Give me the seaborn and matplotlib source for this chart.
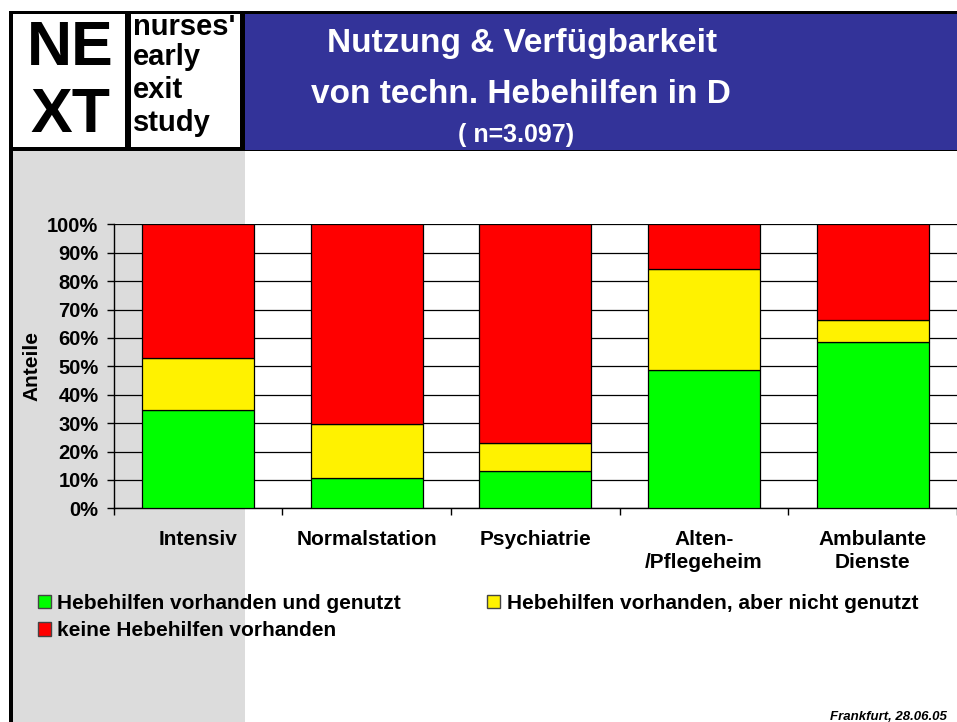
import numpy as np
import pandas as pd
import matplotlib
matplotlib.use("Agg")
import matplotlib.pyplot as plt
from matplotlib.patches import Rectangle, Patch
import seaborn as sns

# ---------------- data ----------------
categories = ["Intensiv", "Normalstation", "Psychiatrie", "Alten-\n/Pflegeheim", "Ambulante\nDienste"]
genutzt = [34.5, 10.7, 13.2, 48.8, 58.7]
nicht_genutzt = [18.5, 18.9, 9.9, 35.6, 7.5]
keine = [47.0, 70.4, 76.9, 15.6, 33.8]
series_labels = ["Hebehilfen vorhanden und genutzt",
                 "Hebehilfen vorhanden, aber nicht genutzt",
                 "keine Hebehilfen vorhanden"]
series_colors = ["#00FF00", "#FFF200", "#FF0000"]
ytick_values = [0, 10, 20, 30, 40, 50, 60, 70, 80, 90, 100]
ytick_labels = [f"{v}%" for v in ytick_values]
title_lines = ["Nutzung & Verfügbarkeit", "von techn. Hebehilfen in D", "( n=3.097)"]
footer = "Frankfurt, 28.06.05"

df = pd.DataFrame({"Kategorie": categories, "genutzt": genutzt,
                   "nicht": nicht_genutzt, "keine": keine})
df["b2"] = df["genutzt"]
df["b3"] = df["genutzt"] + df["nicht"]

# ---------------- figure ----------------
W, H = 957, 722
sns.set_theme(style="white")
plt.rcParams['font.family'] = ['Liberation Sans', 'DejaVu Sans']
plt.rcParams['text.color'] = 'black'
plt.rcParams['axes.labelcolor'] = 'black'
plt.rcParams['xtick.color'] = 'black'
plt.rcParams['ytick.color'] = 'black'
fig = plt.figure(figsize=(W / 100, H / 100), dpi=100)
fig.patch.set_facecolor("white")


def fx(x):
    return x / W


def fy(y):
    return 1 - y / H


def frect(x0, y0, x1, y1, color, z=-10):
    fig.add_artist(Rectangle((fx(x0), fy(y1)), (x1 - x0) / W, (y1 - y0) / H,
                             transform=fig.transFigure, facecolor=color,
                             edgecolor="none", zorder=z))


# background decorations
frect(13, 150, 245, 722, "#DCDCDC", z=-20)      # grey side panel
frect(9, 11, 957, 151, "black", z=-19)            # black frame of header
frect(9, 11, 13, 722, "black", z=-19)             # left black line
frect(13, 14, 125, 147, "white", z=-18)           # logo cell 1
frect(131, 14, 240, 147, "white", z=-18)          # logo cell 2
frect(245, 14, 957, 150, "#333399", z=-18)        # blue banner

# logo texts
fig.text(fx(70), fy(65), "NE", fontsize=45, fontweight="bold", color="black",
         ha="center", va="baseline")
fig.text(fx(70), fy(132), "XT", fontsize=45, fontweight="bold", color="black",
         ha="center", va="baseline")
for word, yb in zip(["nurses'", "early", "exit", "study"], [35, 65, 98, 131]):
    fig.text(fx(133), fy(yb), word, fontsize=21, fontweight="bold",
             color="black", ha="left", va="baseline")

# title
fig.text(fx(522), fy(52), title_lines[0], fontsize=24, fontweight="bold",
         color="white", ha="center", va="baseline")
fig.text(fx(521), fy(103), title_lines[1], fontsize=24, fontweight="bold",
         color="white", ha="center", va="baseline")
fig.text(fx(516), fy(142), title_lines[2], fontsize=18, fontweight="bold",
         color="white", ha="center", va="baseline")

# ---------------- axes ----------------
ax_left, ax_right, ax_top, ax_bottom = 113.7, 957.0, 224.3, 508.3
ax = fig.add_axes([fx(ax_left), fy(ax_bottom), (ax_right - ax_left) / W,
                   (ax_bottom - ax_top) / H])
ax.patch.set_alpha(0)

bw = 0.665
sns.barplot(data=df, x="Kategorie", y="genutzt", color=series_colors[0],
            saturation=1, width=bw, edgecolor="black", linewidth=0.9,
            errorbar=None, ax=ax, zorder=3)
sns.barplot(data=df, x="Kategorie", y="nicht", bottom=df["b2"],
            color=series_colors[1], saturation=1, width=bw, edgecolor="black",
            linewidth=0.9, errorbar=None, ax=ax, zorder=3)
sns.barplot(data=df, x="Kategorie", y="keine", bottom=df["b3"],
            color=series_colors[2], saturation=1, width=bw, edgecolor="black",
            linewidth=0.9, errorbar=None, ax=ax, zorder=3)

ax.set_ylim(0, 100)
ax.set_xlim(-0.5, len(categories) - 0.5)
ax.set_yticks(ytick_values)
ax.set_yticklabels(ytick_labels, fontsize=14.5, fontweight="bold", color="black")
ax.set_xticks(range(len(categories)))
ax.set_xticklabels(categories, fontsize=15, fontweight="bold", linespacing=1.25,
                   color="black")
ax.set_xticks(np.arange(-0.5, len(categories)), minor=True)
ax.set_xlabel("")
ax.set_ylabel("")

ax.grid(False)
ax.yaxis.grid(True, color="black", linewidth=0.9, zorder=0)
ax.set_axisbelow(True)

for s in ["top", "right"]:
    ax.spines[s].set_visible(False)
for s in ["left", "bottom"]:
    ax.spines[s].set_color("black")
    ax.spines[s].set_linewidth(1.0)

ax.tick_params(axis="y", which="major", left=True, length=5, width=1,
               color="black", direction="out", pad=6, labelcolor="black")
ax.tick_params(axis="x", which="major", bottom=True, length=0, pad=15.5,
               labelcolor="black")
ax.tick_params(axis="x", which="minor", bottom=True, length=5, width=1,
               color="black", direction="out")

fig.text(fx(32), fy(366), "Anteile", rotation=90, fontsize=15,
         fontweight="bold", color="black", ha="center", va="center")

# legend
handles = [Patch(facecolor=series_colors[0], edgecolor="#444444", linewidth=1, label=series_labels[0]),
           Patch(facecolor=series_colors[2], edgecolor="#444444", linewidth=1, label=series_labels[2]),
           Patch(facecolor=series_colors[1], edgecolor="#444444", linewidth=1, label=series_labels[1])]
leg = fig.legend(handles=handles, ncol=2, loc="upper left",
                 bbox_to_anchor=(fx(38), fy(594)), frameon=False,
                 prop={"size": 15, "weight": "bold"}, handlelength=0.62,
                 handleheight=0.62, handletextpad=0.3, columnspacing=4.15,
                 labelspacing=0.4, borderpad=0, borderaxespad=0)
for t in leg.get_texts():
    t.set_color("black")

fig.text(fx(947), fy(720), footer, fontsize=9.5, fontweight="bold",
         fontstyle="italic", color="black", ha="right", va="baseline")

fig.savefig("out.png", dpi=100, facecolor="white")
